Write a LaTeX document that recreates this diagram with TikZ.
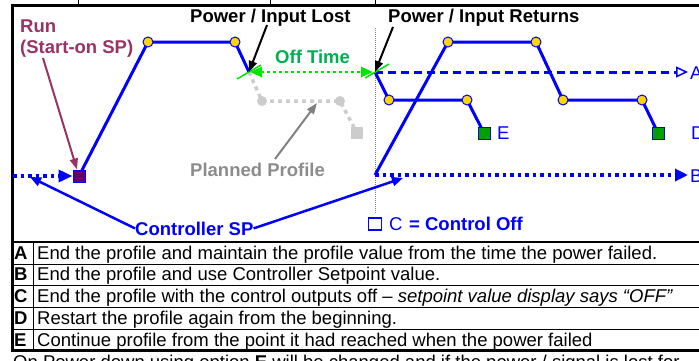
\documentclass[tikz,border=0pt]{standalone}
\usepackage{fontspec}
\setmainfont{Liberation Sans}
\usetikzlibrary{arrows.meta}
\pgfdeclarelayer{bg}
\pgfsetlayers{bg,main}
\definecolor{pblue}{HTML}{0000FF}
\definecolor{runred}{HTML}{993366}
\definecolor{sqpurple}{HTML}{660066}
\definecolor{dotyellow}{HTML}{FFD700}
\definecolor{sqgreen}{HTML}{00A000}
\definecolor{offgreen}{HTML}{00B050}
\definecolor{brightgreen}{HTML}{00E600}
\definecolor{plangray}{HTML}{CCCCCC}
\definecolor{labelgray}{HTML}{8C8C8C}
\definecolor{arrgray}{HTML}{808080}
\begin{document}
\begin{tikzpicture}[x=1pt,y=-1pt,
  lbl/.style={font=\fontsize{18.5}{22}\selectfont\bfseries, inner sep=0pt, anchor=base west},
  txt/.style={font=\fontsize{18.5}{22}\selectfont, inner sep=0pt, anchor=base west},
  ydot/.style={circle, fill=dotyellow, draw=pblue, line width=1pt, minimum size=10pt, inner sep=0pt},
  gdot/.style={circle, fill=plangray, minimum size=10pt, inner sep=0pt},
  gsqs/.style={rectangle, fill=plangray, minimum size=12pt, inner sep=0pt},
  grsq/.style={rectangle, fill=sqgreen, draw=pblue, line width=1pt, minimum size=12pt, inner sep=0pt},
  sqp/.style={rectangle, fill=sqpurple, draw=pblue, line width=1pt, minimum size=12pt, inner sep=0pt},
  prof/.style={pblue, line width=3pt, line join=round},
  bdot/.style={pblue, line width=3.5pt, dash pattern=on 3.5pt off 4pt},
  adash/.style={pblue, line width=3pt, dash pattern=on 8pt off 5pt},
  gdotline/.style={brightgreen, line width=2.5pt, dash pattern=on 2.5pt off 3.5pt},
  planned/.style={plangray, line width=3.5pt, dash pattern=on 4pt off 4pt},
  vline/.style={arrgray, line width=0.7pt, dash pattern=on 1pt off 1pt},
  tri/.style={-{Triangle[length=11pt,width=8pt]}}
]
\useasboundingbox (0,0) rectangle (699,360);
\clip (0,0) rectangle (699,360);

% frame and table
\draw[line width=1pt] (78,0) -- (78,4) (270,0) -- (270,4) (375,0) -- (375,4);
\draw[line width=3pt] (10.5,5) -- (699,5);
\draw[line width=3pt] (12,3.5) -- (12,352);
\draw[line width=2pt] (11,242) -- (699,242);
\foreach \yy in {264,285.75,307.5,329.25} \draw[line width=1pt] (11,\yy) -- (699,\yy);
\draw[line width=3pt] (10.5,350.5) -- (699,350.5);
\draw[line width=1.2pt] (33.5,242) -- (33.5,350);

\node[lbl] (ta) at (14,259) {A};
\node[lbl] (tb) at (14,280.75) {B};
\node[lbl] (tc) at (14,302.5) {C};
\node[lbl] (td) at (14,324.25) {D};
\node[lbl] (te) at (14,346) {E};
\node[txt] (ra) at (37,259) {End the profile and maintain the profile value from the time the power failed.};
\node[txt] (rb) at (37,280.75) {End the profile and use Controller Setpoint value.};
\node[txt] (rc) at (37,302.5) {End the profile with the control outputs off – \textit{setpoint value display says “OFF”}};
\node[txt] (rd) at (37,324.25) {Restart the profile again from the beginning.};
\node[txt] (re) at (37,346) {Continue profile from the point it had reached when the power failed};
\node[txt] (foot) at (13,368) {On Power down using option \textbf{E} will be changed and if the power / signal is lost for};

% profile nodes
\node[sqp] (start) at (79,176) {};
\node[ydot] (p1) at (148,42) {};
\node[ydot] (p2) at (235,42) {};
\coordinate (lost) at (249,72);
\coordinate (ret) at (375,72);
\coordinate (retlow) at (375,175);
\node[ydot] (e1) at (389,100) {};
\node[ydot] (e2) at (467,100) {};
\node[grsq] (esq) at (484,133) {};
\node[ydot] (d1) at (448,42) {};
\node[ydot] (d2) at (536,42) {};
\node[ydot] (d3) at (563,100) {};
\node[ydot] (d4) at (642,100) {};
\node[grsq] (dsq) at (658,133) {};
\node[gdot] (g1) at (262,101) {};
\node[gdot] (g2) at (340,101) {};
\node[gsqs] (gsq) at (357,133) {};

% labels
\node[lbl, text=runred] (run1) at (20,32) {Run};
\node[lbl, text=runred] (run2) at (20,53) {(Start-on SP)};
\node[lbl] (lostlbl) at (190,22) {Power / Input Lost};
\node[lbl] (retlbl) at (388,22) {Power / Input Returns};
\node[lbl, text=offgreen] (offlbl) at (275,63) {Off Time};
\node[lbl, text=labelgray] (planlbl) at (190,176) {Planned Profile};
\node[lbl, text=pblue] (csp) at (135,235) {Controller SP};
\node[draw=pblue, line width=1.3pt, minimum width=13pt, minimum height=12pt, inner sep=0pt] (cbox) at (375,224) {};
\node[txt, text=pblue] (clbl) at (389,230.5) {C};
\node[lbl, text=pblue] (coff) at (409,230.5) {= Control Off};
\node[txt, text=pblue] (albl) at (690,79) {A};
\node[txt, text=pblue] (blbl) at (690,182) {B};
\node[txt, text=pblue] (elbl) at (497,139.5) {E};
\node[txt, text=pblue] (dlbl) at (691,139.5) {D};

% free ends
\coordinate (runfoot) at (43,58);
\coordinate (lstart) at (13,176);
\coordinate (cspL) at (30,177);
\coordinate (cspR) at (403,178);
\coordinate (aend) at (688,72);
\coordinate (bend) at (688,175);
\coordinate (lostfoot) at (267,25);
\coordinate (retfoot) at (393,27);
\coordinate (gtip) at (317,103);
\coordinate (planfoot) at (275,159);
\coordinate (vtop) at (375,28);
\coordinate (vbot) at (375,214);

\begin{pgfonlayer}{bg}
\draw[vline] (vtop) -- (vbot);
\draw[planned] (lost) -- (g1.center) -- (g2.center) -- (gsq.center);
\draw[prof] (start.center) -- (p1.center) -- (p2.center) -- (lost);
\draw[prof] (ret) -- (e1.center) -- (e2.center) -- (esq.center);
\draw[prof] (retlow) -- (d1.center) -- (d2.center) -- (d3.center) -- (d4.center) -- (dsq.center);
\end{pgfonlayer}

% connectors
\draw[bdot, -{Triangle[length=14pt,width=12pt]}] (lstart) -- (start);
\draw[adash, -{Triangle[open,length=12pt,width=11pt,line width=1.5pt]}] (ret) -- (aend);
\draw[bdot, -{Triangle[length=13pt,width=12pt]}] (retlow) -- (bend);
\draw[gdotline, {Triangle[length=12pt,width=10pt]}-{Triangle[length=12pt,width=10pt]}, shorten <=1pt, shorten >=2pt] (lost) -- (ret);
\draw[brightgreen, line width=1.5pt] (lost) ++(-12,7) -- ++(24,-14);
\draw[brightgreen, line width=1.5pt] (ret) ++(-10,6) -- ++(24,-14);
\draw[line width=2pt, tri] (lostfoot) -- (lost);
\draw[line width=2pt, tri] (retfoot) -- (ret);
\draw[runred, line width=2pt, tri] (runfoot) -- (start);
\draw[arrgray, line width=2pt, tri] (planfoot) -- (gtip);
\draw[pblue, line width=2.5pt, -{Triangle[length=11pt,width=9pt]}] (csp.west) -- (cspL);
\draw[pblue, line width=2.5pt, -{Triangle[length=11pt,width=9pt]}] (csp.east) -- (cspR);
\end{tikzpicture}
\end{document}
